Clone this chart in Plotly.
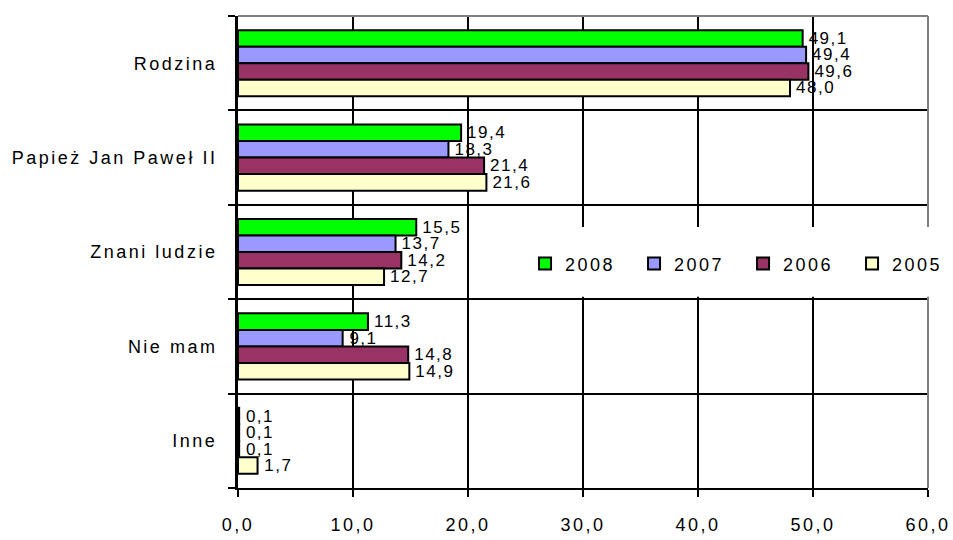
import plotly.graph_objects as go

categories = ["Rodzina", "Papież Jan Paweł II", "Znani ludzie", "Nie mam", "Inne"]
years = ["2008", "2007", "2006", "2005"]
v2008 = [49.1, 19.4, 15.5, 11.3, 0.1]
v2007 = [49.4, 18.3, 13.7, 9.1, 0.1]
v2006 = [49.6, 21.4, 14.2, 14.8, 0.1]
v2005 = [48.0, 21.6, 12.7, 14.9, 1.7]
colors = ["#00FF00", "#9999FF", "#993366", "#FFFFCC"]
series = [v2008, v2007, v2006, v2005]
xticks = [0, 10, 20, 30, 40, 50, 60]

FONT = "Liberation Sans, Arial, sans-serif"
pos = list(range(len(categories)))

fig = go.Figure()
for name, vals, col in zip(years, series, colors):
    fig.add_trace(go.Bar(
        y=pos, x=vals, name=name, orientation="h",
        marker=dict(color=col, line=dict(color="black", width=2)),
        texttemplate="%{x:.1f}", textposition="outside", cliponaxis=False,
        constraintext="none",
        textfont=dict(family=FONT, size=17, color="black"),
    ))

fig.update_layout(
    width=953, height=540,
    margin=dict(l=238, r=25, t=16, b=52, autoexpand=False),
    paper_bgcolor="white", plot_bgcolor="white",
    separators=",.",
    barmode="group", bargap=0.3, bargroupgap=0,
    font=dict(family=FONT, size=17, color="black"),
    showlegend=True,
    legend=dict(orientation="h", x=0.416, xanchor="left", y=0.475, yanchor="middle",
                bgcolor="rgba(0,0,0,0)", font=dict(family=FONT, size=18, color="black"),
                itemwidth=30, entrywidth=64, traceorder="normal"),
    xaxis=dict(range=[0, 60], tickvals=xticks, tickformat=".1f",
               showgrid=True, gridcolor="black", gridwidth=2,
               showline=True, linecolor="black", linewidth=2,
               ticks="outside", ticklen=7, tickwidth=2, tickcolor="black",
               ticklabelstandoff=12, zeroline=False,
               tickfont=dict(family=FONT, size=18)),
    yaxis=dict(range=[4.5, -0.5], tickvals=pos, ticktext=categories,
               showgrid=False, zeroline=False,
               showline=True, linecolor="black", linewidth=3,
               ticks="", ticklabelstandoff=14,
               tickfont=dict(family=FONT, size=18),
               minor=dict(tickmode="linear", tick0=0.5, dtick=1, showgrid=True,
                          gridcolor="black", gridwidth=2, ticks="outside",
                          ticklen=7, tickwidth=2, tickcolor="black")),
    shapes=[
        dict(type="line", xref="paper", yref="paper", x0=0, x1=1, y0=1, y1=1,
             line=dict(color="#808080", width=2)),
        dict(type="line", xref="paper", yref="paper", x0=1, x1=1, y0=0, y1=1,
             line=dict(color="#808080", width=2)),
        dict(type="rect", xref="paper", yref="paper", x0=0.418, x1=1.025,
             y0=0.405, y1=0.553, fillcolor="white", line=dict(width=0), layer="above"),
    ],
)

post = """
document.body.style.margin = '0';
document.body.style.padding = '0';
document.querySelectorAll('.xtick text, .ytick text, .legendtext').forEach(function(t){
  t.style.letterSpacing = '2.5px';
});
document.querySelectorAll('.bartext').forEach(function(t){
  t.style.letterSpacing = '1.5px';
  t.setAttribute('dx', '6');
});
"""
fig.write_html("out.html", post_script=post, config={"displayModeBar": False})
